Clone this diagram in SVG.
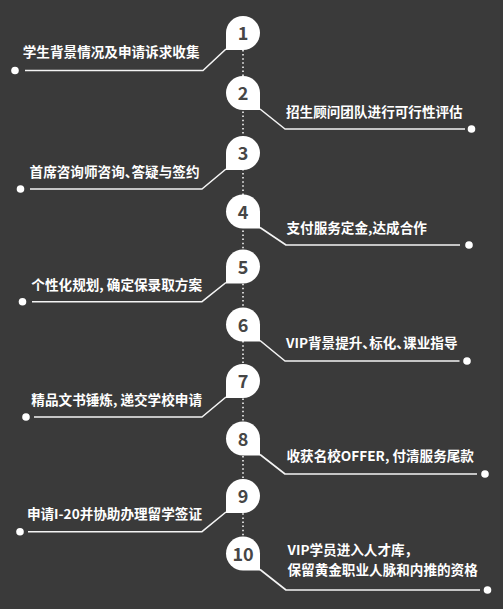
<svg xmlns="http://www.w3.org/2000/svg" xmlns:xlink="http://www.w3.org/1999/xlink" width="503" height="609" viewBox="0 0 503 609">
<style>
.bg{fill:#3a3a3a}
.badge{fill:#ffffff}
.num{font-family:"Noto Sans CJK SC","Noto Sans",sans-serif;font-weight:700;font-size:18px;fill:#464646;text-anchor:middle}
.lbl{font-family:"Noto Sans CJK SC","Noto Sans",sans-serif;font-weight:700;font-size:13.6px;fill:#ffffff;font-feature-settings:"halt"}
.lbl.l{text-anchor:end}
.conn{fill:none;stroke:#f4f4f4;stroke-width:1.6;stroke-linejoin:round}
.dots{fill:none;stroke:#f4f4f4;stroke-width:1.6;stroke-dasharray:1.5 2.6}
.dot{fill:#ffffff}
</style>
<defs>
<path id="tailL" d="M-17 17 L-17 0 A17 17 0 1 1 0 17 Z"/>
<path id="tailR" d="M17 17 L0 17 A17 17 0 1 1 17 0 Z"/>
</defs>
<rect class="bg" x="0" y="0" width="503" height="609"/>
<g id="connectors">
<line class="dots" x1="243" y1="50" x2="243" y2="537"/>
<polyline class="conn" points="226,49 203,70.5 25,70.5"/><circle class="dot" cx="15" cy="70.5" r="3.8"/>
<polyline class="conn" points="260,109 285,129 465,129"/><circle class="dot" cx="471.5" cy="129" r="3.8"/>
<polyline class="conn" points="226,169 202,189 30,189"/><circle class="dot" cx="20.5" cy="189" r="3.8"/>
<polyline class="conn" points="260,227.5 286,245 460,245"/><circle class="dot" cx="469" cy="245" r="3.8"/>
<polyline class="conn" points="226,282.5 202,301.7 32,301.7"/><circle class="dot" cx="22.5" cy="301.7" r="3.8"/>
<polyline class="conn" points="260,340.5 285,361 459.5,361"/><circle class="dot" cx="467" cy="361" r="3.8"/>
<polyline class="conn" points="226,397 202,417 34,417"/><circle class="dot" cx="26" cy="417" r="3.8"/>
<polyline class="conn" points="260,454.5 285,474 477,474"/><circle class="dot" cx="485" cy="474" r="3.8"/>
<polyline class="conn" points="226,512 202,531.7 28,531.7"/><circle class="dot" cx="20" cy="531.7" r="3.8"/>
<polyline class="conn" points="260,569.5 286,590 480,590"/><circle class="dot" cx="487.5" cy="590" r="3.8"/>
</g>
<g id="step1"><use href="#tailL" class="badge" x="243" y="33"/><text class="num" x="243" y="40">1</text><text class="lbl l" x="199.5" y="57">学生背景情况及申请诉求收集</text></g>
<g id="step2"><use href="#tailR" class="badge" x="243" y="93"/><text class="num" x="243" y="100">2</text><text class="lbl" x="286" y="117">招生顾问团队进行可行性评估</text></g>
<g id="step3"><use href="#tailL" class="badge" x="243" y="153"/><text class="num" x="243" y="160">3</text><text class="lbl l" x="199.5" y="177">首席咨询师咨询、答疑与签约</text></g>
<g id="step4"><use href="#tailR" class="badge" x="243" y="211.5"/><text class="num" x="243" y="218.5">4</text><text class="lbl" x="286.5" y="232.6">支付服务定金,达成合作</text></g>
<g id="step5"><use href="#tailL" class="badge" x="243" y="266.5"/><text class="num" x="243" y="273.5">5</text><text class="lbl l" x="202" y="290.3">个性化规划, 确定保录取方案</text></g>
<g id="step6"><use href="#tailR" class="badge" x="243" y="324.5"/><text class="num" x="243" y="331.5">6</text><text class="lbl" x="286" y="347.6">VIP背景提升、标化、课业指导</text></g>
<g id="step7"><use href="#tailL" class="badge" x="243" y="381"/><text class="num" x="243" y="388">7</text><text class="lbl l" x="202" y="404.6">精品文书锤炼, 递交学校申请</text></g>
<g id="step8"><use href="#tailR" class="badge" x="243" y="438.5"/><text class="num" x="243" y="445.5">8</text><text class="lbl" x="286.5" y="461.3">收获名校OFFER, 付清服务尾款</text></g>
<g id="step9"><use href="#tailL" class="badge" x="243" y="496"/><text class="num" x="243" y="503">9</text><text class="lbl l" x="202" y="518.6">申请I-20并协助办理留学签证</text></g>
<g id="step10"><use href="#tailR" class="badge" x="243" y="553.5"/><text class="num" x="243" y="560.5">10</text><text class="lbl" x="287.5" y="554.6">VIP学员进入人才库，</text><text class="lbl" x="287.5" y="575.3">保留黄金职业人脉和内推的资格</text></g>
</svg>
